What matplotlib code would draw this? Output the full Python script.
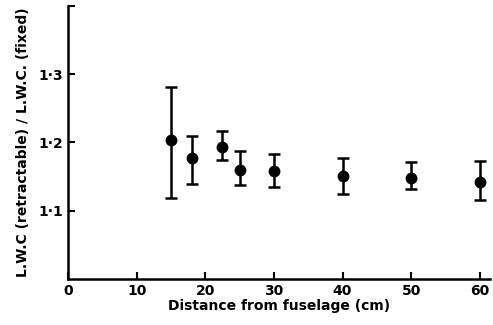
import numpy as np
import matplotlib

matplotlib.use("Agg")
import matplotlib.pyplot as plt
from matplotlib.ticker import FuncFormatter

# distance from fuselage (cm), ratio and error-bar ends
dist = [15, 18, 22.5, 25, 30, 40, 50, 60]
ratio = [1.203, 1.177, 1.193, 1.159, 1.158, 1.150, 1.148, 1.142]
err_hi = [1.281, 1.209, 1.216, 1.187, 1.183, 1.177, 1.171, 1.172]
err_lo = [1.119, 1.139, 1.174, 1.137, 1.134, 1.124, 1.131, 1.115]

x_ticks = [0, 10, 20, 30, 40, 50, 60]
y_ticks = [1.1, 1.2, 1.3]

ratio = np.array(ratio)
yerr = [ratio - np.array(err_lo), np.array(err_hi) - ratio]

plt.rcParams["font.family"] = "DejaVu Sans"
plt.rcParams["font.weight"] = "bold"

fig = plt.figure(figsize=(4.93, 3.25), dpi=100)
ax = fig.add_axes([0.138, 0.142, 0.856, 0.84])

ax.errorbar(
    dist, ratio, yerr=yerr, fmt="o", color="black", ms=7.5,
    elinewidth=1.8, capsize=4.5, capthick=1.8,
)

ax.set_xlim(0, 61.5)
ax.set_ylim(1.0, 1.4)
ax.spines["top"].set_visible(False)
ax.spines["right"].set_visible(False)
ax.spines["left"].set_linewidth(1.8)
ax.spines["bottom"].set_linewidth(1.8)
ax.set_xticks(x_ticks)
ax.set_yticks(y_ticks)
ax.set_yticks([1.4], minor=True)  # unlabelled tick at the top of the axis
ax.yaxis.set_major_formatter(FuncFormatter(lambda v, p: f"{v:.1f}".replace(".", "·")))
ax.tick_params(direction="in", length=5, width=1.5, labelsize=10)
ax.tick_params(axis="y", which="minor", direction="in", length=5, width=1.5)

ax.set_xlabel("Distance from fuselage (cm)", fontsize=10, fontweight="bold", labelpad=1)
ax.set_ylabel("L.W.C (retractable) / L.W.C. (fixed)", fontsize=10, fontweight="bold", labelpad=6)

fig.savefig("out.png", dpi=100)
